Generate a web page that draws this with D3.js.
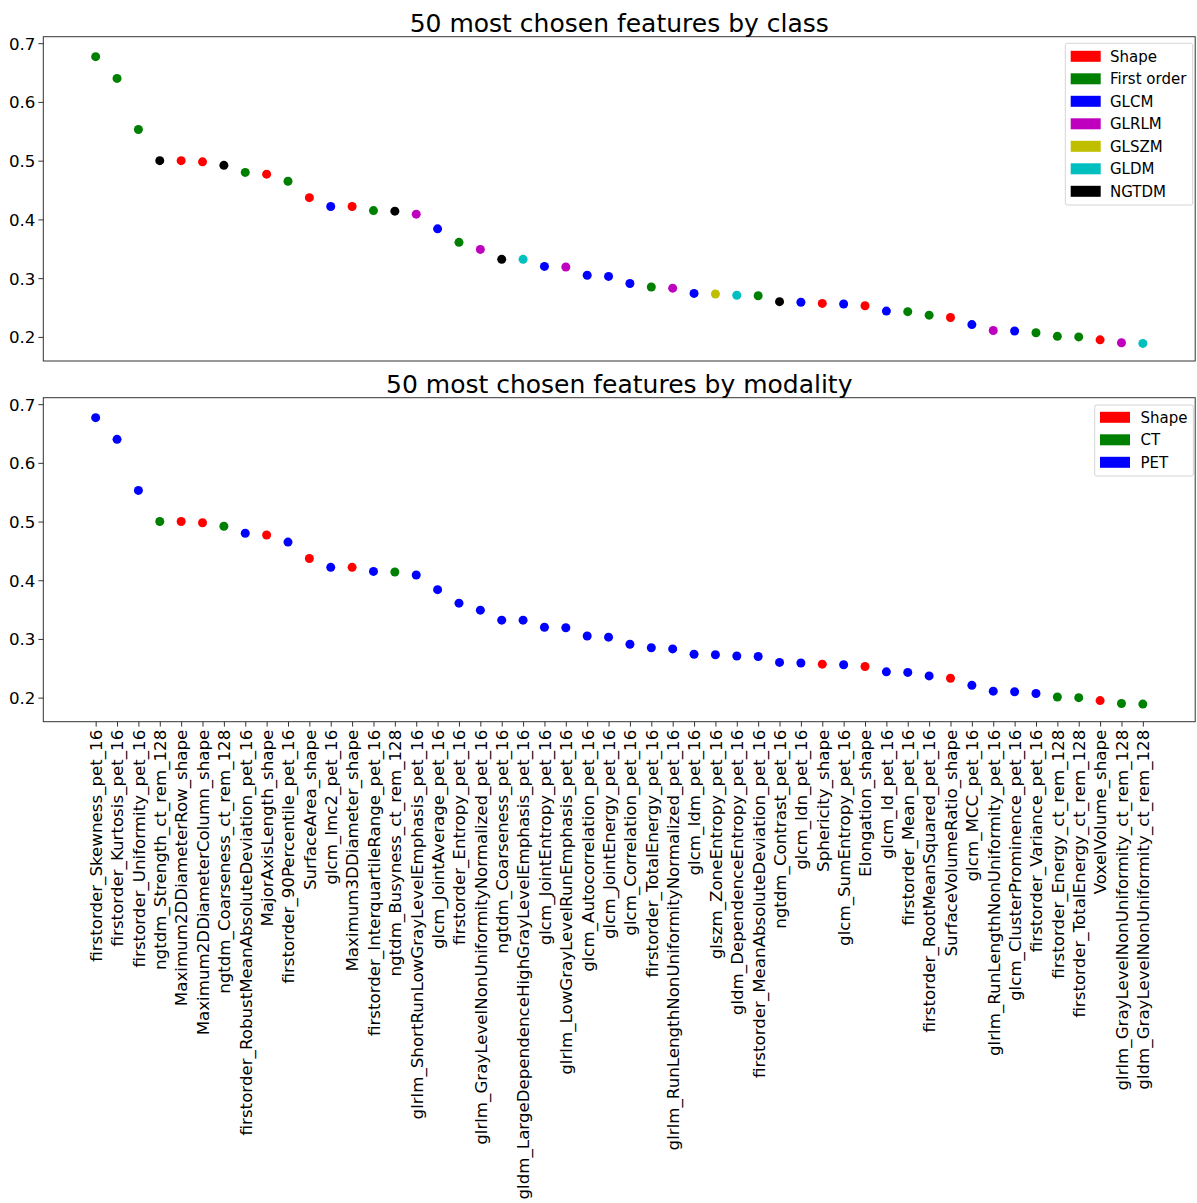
<!DOCTYPE html>
<html>
<head>
<meta charset="utf-8">
<script src="https://cdn.jsdelivr.net/npm/d3@7"></script>
<style>
    html, body { margin: 0; padding: 0; background: #fff; }
    svg { display: block; font-family: "DejaVu Sans", sans-serif; }
</style>
</head>
<body>
<svg id="chart" width="1197" height="1203"></svg>
<script>
// features in rank order
var features = [
    'firstorder_Skewness_pet_16', 'firstorder_Kurtosis_pet_16', 'firstorder_Uniformity_pet_16',
    'ngtdm_Strength_ct_rem_128', 'Maximum2DDiameterRow_shape', 'Maximum2DDiameterColumn_shape',
    'ngtdm_Coarseness_ct_rem_128', 'firstorder_RobustMeanAbsoluteDeviation_pet_16', 'MajorAxisLength_shape',
    'firstorder_90Percentile_pet_16', 'SurfaceArea_shape', 'glcm_Imc2_pet_16',
    'Maximum3DDiameter_shape', 'firstorder_InterquartileRange_pet_16', 'ngtdm_Busyness_ct_rem_128',
    'glrlm_ShortRunLowGrayLevelEmphasis_pet_16', 'glcm_JointAverage_pet_16', 'firstorder_Entropy_pet_16',
    'glrlm_GrayLevelNonUniformityNormalized_pet_16', 'ngtdm_Coarseness_pet_16',
    'gldm_LargeDependenceHighGrayLevelEmphasis_pet_16', 'glcm_JointEntropy_pet_16',
    'glrlm_LowGrayLevelRunEmphasis_pet_16', 'glcm_Autocorrelation_pet_16', 'glcm_JointEnergy_pet_16',
    'glcm_Correlation_pet_16', 'firstorder_TotalEnergy_pet_16', 'glrlm_RunLengthNonUniformityNormalized_pet_16',
    'glcm_Idm_pet_16', 'glszm_ZoneEntropy_pet_16', 'gldm_DependenceEntropy_pet_16',
    'firstorder_MeanAbsoluteDeviation_pet_16', 'ngtdm_Contrast_pet_16', 'glcm_Idn_pet_16',
    'Sphericity_shape', 'glcm_SumEntropy_pet_16', 'Elongation_shape', 'glcm_Id_pet_16',
    'firstorder_Mean_pet_16', 'firstorder_RootMeanSquared_pet_16', 'SurfaceVolumeRatio_shape',
    'glcm_MCC_pet_16', 'glrlm_RunLengthNonUniformity_pet_16', 'glcm_ClusterProminence_pet_16',
    'firstorder_Variance_pet_16', 'firstorder_Energy_ct_rem_128', 'firstorder_TotalEnergy_ct_rem_128',
    'VoxelVolume_shape', 'glrlm_GrayLevelNonUniformity_ct_rem_128', 'gldm_GrayLevelNonUniformity_ct_rem_128'
];

var scores = [
    0.677, 0.640, 0.553, 0.500, 0.500, 0.498, 0.492, 0.480, 0.477, 0.465,
    0.437, 0.422, 0.422, 0.415, 0.414, 0.409, 0.384, 0.361, 0.349, 0.332,
    0.332, 0.320, 0.319, 0.305, 0.303, 0.291, 0.285, 0.283, 0.274, 0.273,
    0.271, 0.270, 0.260, 0.259, 0.257, 0.256, 0.253, 0.244, 0.243, 0.237,
    0.233, 0.221, 0.211, 0.210, 0.207, 0.201, 0.200, 0.195, 0.190, 0.189
];

// class and modality of each feature
var featureClass = [
    'First order', 'First order', 'First order', 'NGTDM', 'Shape', 'Shape', 'NGTDM', 'First order', 'Shape', 'First order',
    'Shape', 'GLCM', 'Shape', 'First order', 'NGTDM', 'GLRLM', 'GLCM', 'First order', 'GLRLM', 'NGTDM',
    'GLDM', 'GLCM', 'GLRLM', 'GLCM', 'GLCM', 'GLCM', 'First order', 'GLRLM', 'GLCM', 'GLSZM',
    'GLDM', 'First order', 'NGTDM', 'GLCM', 'Shape', 'GLCM', 'Shape', 'GLCM', 'First order', 'First order',
    'Shape', 'GLCM', 'GLRLM', 'GLCM', 'First order', 'First order', 'First order', 'Shape', 'GLRLM', 'GLDM'
];

var featureModality = [
    'PET', 'PET', 'PET', 'CT', 'Shape', 'Shape', 'CT', 'PET', 'Shape', 'PET',
    'Shape', 'PET', 'Shape', 'PET', 'CT', 'PET', 'PET', 'PET', 'PET', 'PET',
    'PET', 'PET', 'PET', 'PET', 'PET', 'PET', 'PET', 'PET', 'PET', 'PET',
    'PET', 'PET', 'PET', 'PET', 'Shape', 'PET', 'Shape', 'PET', 'PET', 'PET',
    'Shape', 'PET', 'PET', 'PET', 'PET', 'CT', 'CT', 'Shape', 'CT', 'CT'
];

var classNames = ['Shape', 'First order', 'GLCM', 'GLRLM', 'GLSZM', 'GLDM', 'NGTDM'];
var classColors = ['#ff0000', '#008000', '#0000ff', '#bf00bf', '#bfbf00', '#00bfbf', '#000000'];
var modalityNames = ['Shape', 'CT', 'PET'];
var modalityColors = ['#ff0000', '#008000', '#0000ff'];

var yTicks = [0.2, 0.3, 0.4, 0.5, 0.6, 0.7];

(function (d3) {
    'use strict';

    var PLOT_LEFT   = 43.3,
        PLOT_RIGHT  = 1195.2,
        FONT_SIZE   = 16.67,
        LEGEND_FONT = 15,
        TICK_LENGTH = 4.9,
        DOT_RADIUS  = 4.5,
        PANELS      = [
            {
                title: '50 most chosen features by class',
                top: 36.7, bottom: 361,
                key: featureClass, names: classNames, colors: classColors,
                legend: {x: 1065.3, y: 43.3, w: 127.4, h: 161.7, patchX: 1070.7, firstY: 56.3, textX: 1110},
                xLabels: false
            },
            {
                title: '50 most chosen features by modality',
                top: 397.7, bottom: 721.7,
                key: featureModality, names: modalityNames, colors: modalityColors,
                legend: {x: 1094.7, y: 405, w: 98.6, h: 71, patchX: 1100, firstY: 417.3, textX: 1140.5},
                xLabels: true
            }
        ];

    var svg = d3.select('#chart');

    var x = d3.scaleLinear()
        .domain([-2.45, features.length - 1 + 2.45])
        .range([PLOT_LEFT, PLOT_RIGHT]);

    /**
     * draw one panel: frame, y axis, dots, title, legend, optional x labels
     */
    function drawPanel(p) {
        var y = d3.scaleLinear()
            .domain([0.159, 0.711])
            .range([p.bottom, p.top]);

        var color = d3.scaleOrdinal()
            .domain(p.names)
            .range(p.colors);

        var g = svg.append('g');

        // dots
        g.append('g').selectAll('circle')
            .data(scores)
            .join('circle')
            .attr('cx', function (d, i) { return x(i); })
            .attr('cy', function (d) { return y(d); })
            .attr('r', DOT_RADIUS)
            .attr('fill', function (d, i) { return color(p.key[i]); });

        // frame
        g.append('rect')
            .attr('x', PLOT_LEFT)
            .attr('y', p.top)
            .attr('width', PLOT_RIGHT - PLOT_LEFT)
            .attr('height', p.bottom - p.top)
            .attr('fill', 'none')
            .attr('stroke', '#333')
            .attr('stroke-width', 1);

        // y axis
        var yAxis = g.append('g')
            .attr('transform', 'translate(' + PLOT_LEFT + ',0)')
            .call(d3.axisLeft(y)
                .tickValues(yTicks)
                .tickFormat(d3.format('.1f'))
                .tickSize(TICK_LENGTH)
                .tickPadding(3));
        yAxis.select('.domain').remove();
        yAxis.selectAll('line').attr('stroke', '#333');
        yAxis.selectAll('text')
            .attr('font-family', '"DejaVu Sans", sans-serif')
            .attr('font-size', FONT_SIZE)
            .attr('fill', '#000')
            .attr('dy', '0.36em');

        // x axis with rotated feature names
        if (p.xLabels) {
            var xAxis = g.append('g')
                .attr('transform', 'translate(0,' + p.bottom + ')')
                .call(d3.axisBottom(x)
                    .tickValues(d3.range(features.length))
                    .tickFormat(function (i) { return features[i]; })
                    .tickSize(TICK_LENGTH));
            xAxis.select('.domain').remove();
            xAxis.selectAll('line').attr('stroke', '#333');
            xAxis.selectAll('text')
                .attr('font-family', '"DejaVu Sans", sans-serif')
                .attr('font-size', FONT_SIZE)
                .attr('fill', '#000')
                .attr('transform', 'rotate(-90)')
                .attr('text-anchor', 'end')
                .attr('x', -8)
                .attr('y', 0)
                .attr('dy', '0.35em');
        }

        // title
        g.append('text')
            .text(p.title)
            .attr('x', (PLOT_LEFT + PLOT_RIGHT) / 2)
            .attr('y', p.top - 5)
            .attr('text-anchor', 'middle')
            .attr('font-size', 25)
            .attr('fill', '#000');

        // legend
        var L = p.legend;
        var legend = g.append('g');
        legend.append('rect')
            .attr('x', L.x)
            .attr('y', L.y)
            .attr('width', L.w)
            .attr('height', L.h)
            .attr('rx', 2)
            .attr('fill', '#fff')
            .attr('fill-opacity', 0.8)
            .attr('stroke', '#d5d5d5');

        var items = legend.selectAll('g.item')
            .data(p.names)
            .join('g')
            .attr('class', 'item')
            .attr('transform', function (d, i) { return 'translate(0,' + (L.firstY + i * 22.5) + ')'; });

        items.append('rect')
            .attr('x', L.patchX)
            .attr('y', -5.5)
            .attr('width', 30)
            .attr('height', 11)
            .attr('fill', function (d) { return color(d); });

        items.append('text')
            .text(function (d) { return d; })
            .attr('x', L.textX)
            .attr('y', 5.3)
            .attr('font-size', LEGEND_FONT)
            .attr('fill', '#000');
    }

    PANELS.forEach(drawPanel);

})(d3);
</script>
</body>
</html>
